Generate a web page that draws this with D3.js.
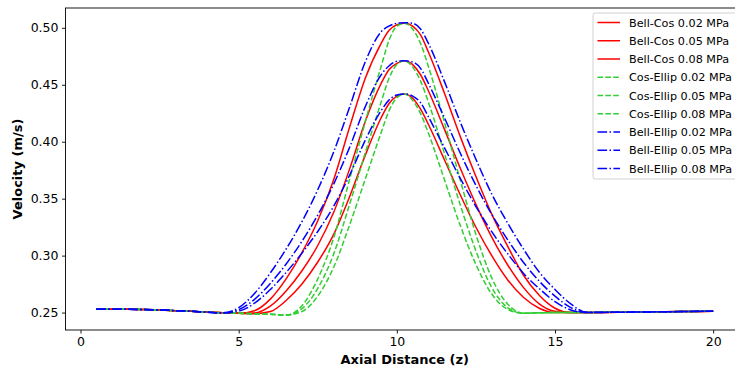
<!DOCTYPE html>
<html><head><meta charset="utf-8">
<script src="https://cdn.jsdelivr.net/npm/d3@7"></script>
<style>
html,body{margin:0;padding:0;background:#fff;overflow:hidden}
svg{display:block;font-family:"DejaVu Sans",sans-serif}
</style></head>
<body><svg id="c" width="735" height="368"></svg>
<script>
// Axial positions (shared grid)
const zValues = [0.5,1,1.5,2,2.5,3,3.5,4,4.5,5,5.5,6,6.5,7,7.5,8,8.5,9,9.5,9.75,10,10.25,10.5,10.75,11,11.5,12,12.5,13,13.5,14,14.5,15,15.5,16,17,18,19,20];

// Bell-Cos (red, solid)
const bellCos002 = [0.2530,0.2530,0.2529,0.2527,0.2523,0.2517,0.2511,0.2504,0.2498,0.2493,0.2490,0.2509,0.2606,0.2751,0.2944,0.3185,0.3513,0.3880,0.4208,0.4333,0.4401,0.4420,0.4382,0.4286,0.4151,0.3844,0.3537,0.3249,0.2999,0.2788,0.2634,0.2538,0.2500,0.2500,0.2501,0.2503,0.2506,0.2509,0.2512];
const bellCos005 = [0.2530,0.2530,0.2529,0.2527,0.2523,0.2517,0.2511,0.2504,0.2498,0.2493,0.2497,0.2557,0.2690,0.2867,0.3089,0.3378,0.3755,0.4177,0.4510,0.4632,0.4688,0.4710,0.4677,0.4588,0.4445,0.4113,0.3771,0.3450,0.3163,0.2920,0.2721,0.2577,0.2511,0.2500,0.2501,0.2503,0.2506,0.2509,0.2512];
const bellCos008 = [0.2530,0.2530,0.2529,0.2527,0.2523,0.2517,0.2511,0.2504,0.2498,0.2493,0.2516,0.2618,0.2796,0.3026,0.3306,0.3663,0.4122,0.4556,0.4862,0.4976,0.5027,0.5040,0.5015,0.4938,0.4786,0.4430,0.4049,0.3694,0.3364,0.3084,0.2830,0.2652,0.2538,0.2500,0.2501,0.2503,0.2506,0.2509,0.2512];

// Cos-Ellip (green, dashed)
const cosEllip002 = [0.2530,0.2530,0.2529,0.2527,0.2523,0.2517,0.2511,0.2504,0.2498,0.2493,0.2490,0.2485,0.2479,0.2509,0.2645,0.2896,0.3264,0.3670,0.4077,0.4270,0.4386,0.4420,0.4362,0.4247,0.4074,0.3671,0.3268,0.2922,0.2663,0.2529,0.2494,0.2498,0.2500,0.2500,0.2501,0.2503,0.2506,0.2509,0.2512];
const cosEllip005 = [0.2530,0.2530,0.2529,0.2527,0.2523,0.2517,0.2511,0.2504,0.2498,0.2493,0.2490,0.2485,0.2478,0.2534,0.2712,0.3012,0.3445,0.3900,0.4344,0.4555,0.4677,0.4710,0.4655,0.4533,0.4345,0.3903,0.3450,0.3041,0.2721,0.2544,0.2493,0.2498,0.2500,0.2500,0.2501,0.2503,0.2506,0.2509,0.2512];
const cosEllip008 = [0.2530,0.2530,0.2529,0.2527,0.2523,0.2517,0.2511,0.2504,0.2498,0.2493,0.2490,0.2485,0.2477,0.2560,0.2796,0.3153,0.3663,0.4173,0.4658,0.4887,0.5015,0.5040,0.4989,0.4862,0.4659,0.4176,0.3668,0.3186,0.2805,0.2576,0.2495,0.2498,0.2500,0.2500,0.2501,0.2503,0.2506,0.2509,0.2512];

// Bell-Ellip (blue, dash-dot)
const bellEllip002 = [0.2530,0.2530,0.2529,0.2527,0.2523,0.2517,0.2511,0.2504,0.2498,0.2512,0.2582,0.2702,0.2852,0.3022,0.3212,0.3432,0.3702,0.4012,0.4272,0.4365,0.4410,0.4420,0.4401,0.4343,0.4218,0.3950,0.3681,0.3431,0.3210,0.3018,0.2846,0.2711,0.2596,0.2523,0.2500,0.2503,0.2506,0.2509,0.2512];
const bellEllip005 = [0.2530,0.2530,0.2529,0.2527,0.2523,0.2517,0.2511,0.2504,0.2498,0.2526,0.2616,0.2756,0.2926,0.3126,0.3356,0.3626,0.3946,0.4306,0.4586,0.4665,0.4706,0.4710,0.4700,0.4644,0.4511,0.4213,0.3903,0.3616,0.3362,0.3141,0.2942,0.2776,0.2644,0.2544,0.2500,0.2503,0.2506,0.2509,0.2512];
const bellEllip008 = [0.2530,0.2530,0.2529,0.2527,0.2523,0.2517,0.2511,0.2504,0.2498,0.2543,0.2668,0.2848,0.3058,0.3298,0.3578,0.3908,0.4298,0.4700,0.4964,0.5015,0.5040,0.5045,0.5040,0.4989,0.4862,0.4532,0.4176,0.3846,0.3541,0.3287,0.3059,0.2856,0.2703,0.2576,0.2502,0.2503,0.2506,0.2509,0.2512];

const seriesNames = ["Bell-Cos 0.02 MPa","Bell-Cos 0.05 MPa","Bell-Cos 0.08 MPa","Cos-Ellip 0.02 MPa","Cos-Ellip 0.05 MPa","Cos-Ellip 0.08 MPa","Bell-Ellip 0.02 MPa","Bell-Ellip 0.05 MPa","Bell-Ellip 0.08 MPa"];
const seriesValues = [bellCos002,bellCos005,bellCos008,cosEllip002,cosEllip005,cosEllip008,bellEllip002,bellEllip005,bellEllip008];
const xTicks = [0,5,10,15,20];
const yTicks = [0.25,0.30,0.35,0.40,0.45,0.50];

const styles = {
  "Bell-Cos": {color:"#ff0000", dash:null},
  "Cos-Ellip": {color:"#32cd32", dash:"5.5,2.4"},
  "Bell-Ellip": {color:"#0000ff", dash:"9.6,2.4,1.5,2.4"}
};
const LW = 1.5;

const svg = d3.select("#c");
const L = 65.5, R = 744, T = 8, B = 330;
const x = d3.scaleLinear().domain([-0.475, 20.975]).range([L, R]);
const y = d3.scaleLinear().domain([0.2347, 0.5174]).range([B, T]);

svg.append("clipPath").attr("id","pc").append("rect")
  .attr("x",L).attr("y",T).attr("width",R-L).attr("height",B-T);

const line = d3.line().x((d,i)=>x(zValues[i])).y(d=>y(d)).curve(d3.curveMonotoneX);
const g = svg.append("g").attr("clip-path","url(#pc)");
seriesNames.forEach((name,k)=>{
  const st = styles[name.split(" ")[0]];
  g.append("path").datum(seriesValues[k]).attr("d",line)
    .attr("fill","none").attr("stroke",st.color).attr("stroke-width",LW)
    .attr("stroke-dasharray",st.dash);
});

// Axes
const xAxis = d3.axisBottom(x).tickValues(xTicks).tickFormat(d3.format("d")).tickSize(3.5).tickPadding(3.5);
const yAxis = d3.axisLeft(y).tickValues(yTicks).tickFormat(d3.format(".2f")).tickSize(3.5).tickPadding(3.5);
const gx = svg.append("g").attr("transform",`translate(0,${B})`).call(xAxis);
const gy = svg.append("g").attr("transform",`translate(${L},0)`).call(yAxis);
[gx,gy].forEach(a=>{
  a.select(".domain").remove();
  a.selectAll("text").attr("font-size",12.5).attr("font-family","DejaVu Sans").attr("fill","#000");
  a.selectAll("line").attr("stroke","#000").attr("stroke-width",0.9);
});
// spines
svg.append("rect").attr("x",L).attr("y",T).attr("width",R-L).attr("height",B-T)
  .attr("fill","none").attr("stroke","#000").attr("stroke-width",0.9);

// axis labels
svg.append("text").attr("x",(L+R)/2).attr("y",364).attr("text-anchor","middle")
  .attr("font-size",13).attr("font-weight","bold").text("Axial Distance (z)");
svg.append("text").attr("transform",`translate(22,${(T+B)/2}) rotate(-90)`).attr("text-anchor","middle")
  .attr("font-size",13).attr("font-weight","bold").text("Velocity (m/s)");

// legend
const lg = svg.append("g");
lg.append("rect").attr("x",593).attr("y",13).attr("width",146).attr("height",166).attr("rx",2.5)
  .attr("fill","#fff").attr("fill-opacity",0.8).attr("stroke","#cccccc").attr("stroke-width",0.9);
seriesNames.forEach((name,k)=>{
  const st = styles[name.split(" ")[0]];
  const cy = 22.5 + k*18.25;
  lg.append("line").attr("x1",597.5).attr("x2",620).attr("y1",cy).attr("y2",cy)
    .attr("stroke",st.color).attr("stroke-width",LW).attr("stroke-dasharray",st.dash);
  lg.append("text").attr("x",629).attr("y",cy).attr("dy","0.36em").attr("font-size",11.2).text(name);
});
</script></body></html>
